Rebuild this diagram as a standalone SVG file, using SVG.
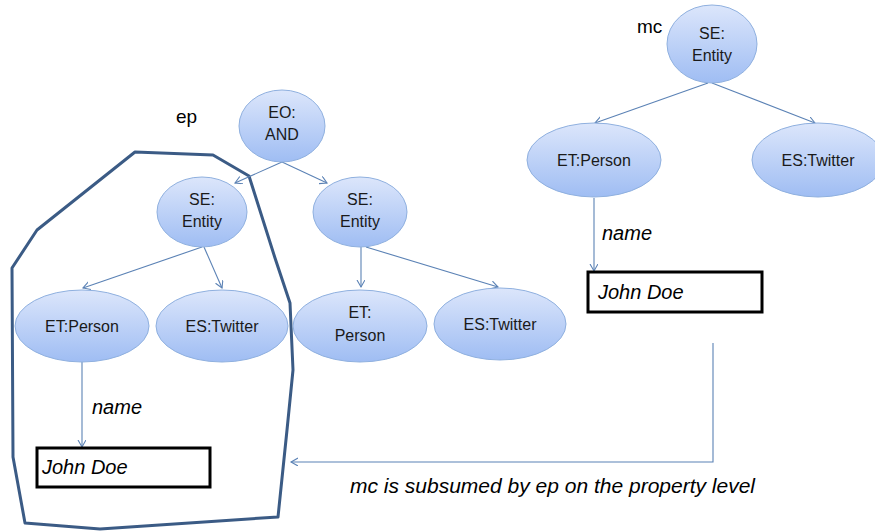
<svg xmlns="http://www.w3.org/2000/svg" width="875" height="531" viewBox="0 0 875 531">
<defs>
<linearGradient id="g" x1="0" y1="0" x2="0" y2="1">
<stop offset="0" stop-color="#dce6fb"/>
<stop offset="1" stop-color="#9fbdf3"/>
</linearGradient>
<marker id="ar" markerWidth="10" markerHeight="10" refX="7" refY="4" orient="auto" markerUnits="userSpaceOnUse">
<path d="M0,0 L7,4 L0,8" fill="none" stroke="#5b82b5" stroke-width="1.1"/>
</marker>
</defs>
<style>
.n ellipse{fill:url(#g);stroke:#8fb0df;stroke-width:1}
.t{font-family:"Liberation Sans",Arial,sans-serif;font-size:16px;fill:#1a1a1a;text-anchor:middle}
.lbl{font-family:"Liberation Sans",Arial,sans-serif;font-size:19px;fill:#000}
.it{font-family:"Liberation Sans",Arial,sans-serif;font-style:italic;font-size:20px;fill:#000}
.box rect{fill:#fff;stroke:#000;stroke-width:3}
.c line,.c path{stroke:#5b82b5;stroke-width:1.1;fill:none}
</style>
<rect width="875" height="531" fill="#fff"/>
<g id="ep-boundary">
<polygon points="135,152 213,155 249,176 275,258 290,303 293,370 287,430 278,517 100,529 25,523 13,457 12,268 37,230" fill="none" stroke="#3b5b85" stroke-width="3" stroke-linejoin="round"/>
</g>
<g class="c" id="connectors">
<line x1="282" y1="162" x2="235" y2="183" marker-end="url(#ar)"/>
<line x1="282" y1="162" x2="327" y2="183" marker-end="url(#ar)"/>
<line x1="202" y1="247" x2="83" y2="288" marker-end="url(#ar)"/>
<line x1="204" y1="247" x2="222" y2="288" marker-end="url(#ar)"/>
<line x1="361" y1="247" x2="361" y2="287" marker-end="url(#ar)"/>
<line x1="366" y1="247" x2="498" y2="287" marker-end="url(#ar)"/>
<line x1="82" y1="362" x2="82" y2="447" marker-end="url(#ar)"/>
<line x1="708" y1="83" x2="595" y2="123" marker-end="url(#ar)"/>
<line x1="712" y1="83" x2="815" y2="123" marker-end="url(#ar)"/>
<line x1="594" y1="198" x2="594" y2="271" marker-end="url(#ar)"/>
<path d="M713,343 L713,462 L291,462" marker-end="url(#ar)"/>
</g>
<g id="eo-and" class="n"><ellipse cx="282" cy="126" rx="43" ry="36"/><text class="t" x="282" y="118">EO:</text><text class="t" x="282" y="140">AND</text></g>
<g id="se-entity-1" class="n"><ellipse cx="202" cy="212" rx="45" ry="35"/><text class="t" x="202" y="205">SE:</text><text class="t" x="202" y="227">Entity</text></g>
<g id="se-entity-2" class="n"><ellipse cx="360" cy="212" rx="47" ry="35"/><text class="t" x="360" y="205">SE:</text><text class="t" x="360" y="227">Entity</text></g>
<g id="et-person-1" class="n"><ellipse cx="82" cy="326" rx="67" ry="36"/><text class="t" x="82" y="332">ET:Person</text></g>
<g id="es-twitter-1" class="n"><ellipse cx="222" cy="326" rx="66" ry="36"/><text class="t" x="222" y="332">ES:Twitter</text></g>
<g id="et-person-2" class="n"><ellipse cx="360" cy="326" rx="67" ry="36"/><text class="t" x="360" y="318">ET:</text><text class="t" x="360" y="341">Person</text></g>
<g id="es-twitter-2" class="n"><ellipse cx="500" cy="324" rx="66" ry="36"/><text class="t" x="500" y="330">ES:Twitter</text></g>
<g id="se-entity-mc" class="n"><ellipse cx="712" cy="44" rx="45" ry="39"/><text class="t" x="712" y="39">SE:</text><text class="t" x="712" y="61">Entity</text></g>
<g id="et-person-mc" class="n"><ellipse cx="594" cy="160" rx="67" ry="37"/><text class="t" x="594" y="166">ET:Person</text></g>
<g id="es-twitter-mc" class="n"><ellipse cx="818" cy="160" rx="66" ry="37"/><text class="t" x="818" y="166">ES:Twitter</text></g>
<g id="john-doe-1" class="box"><rect x="37" y="448" width="173" height="39"/><text class="it" x="42" y="474">John Doe</text></g>
<g id="john-doe-mc" class="box"><rect x="588" y="272" width="174" height="40"/><text class="it" x="598" y="299">John Doe</text></g>
<g id="labels">
<text class="lbl" x="176" y="123">ep</text>
<text class="lbl" x="637" y="33">mc</text>
<text class="it" x="92" y="414">name</text>
<text class="it" x="602" y="240">name</text>
<text class="it" x="350" y="493" style="font-size:21px">mc is subsumed by ep on the property level</text>
</g>
</svg>
